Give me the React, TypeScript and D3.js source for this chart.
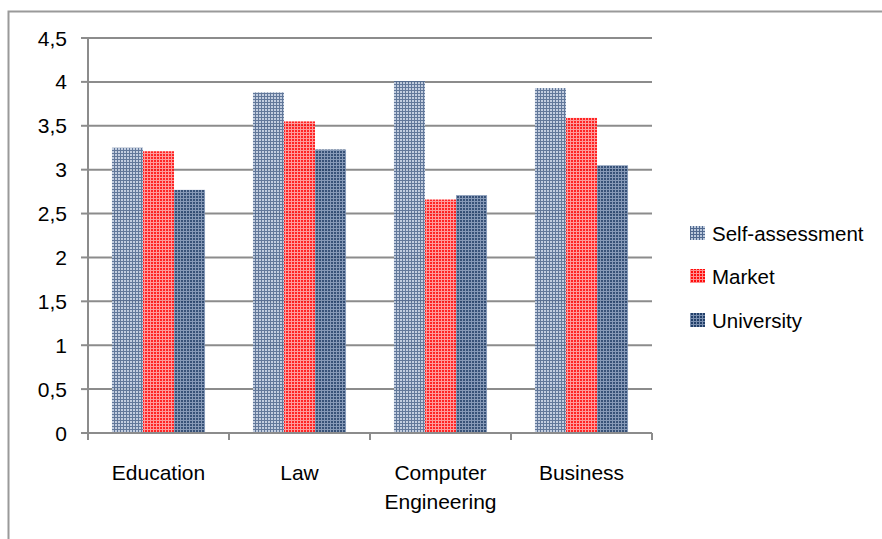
import React from "react";
import * as d3 from "d3";

const categories = ["Education", "Law", "Computer Engineering", "Business"];
const seriesNames = ["Self-assessment", "Market", "University"];
const selfAssessment = [3.25, 3.88, 4.01, 3.93];
const market = [3.21, 3.55, 2.66, 3.59];
const university = [2.77, 3.23, 2.71, 3.05];
const yTicks = [0, 0.5, 1, 1.5, 2, 2.5, 3, 3.5, 4, 4.5];

const seriesValues = [selfAssessment, market, university];
const patternStyles = [
  { bg: "#bcc9dc", line: "#51698f" },
  { bg: "#ff0d0d", line: "#ff9090" },
  { bg: "#223f69", line: "#7a8fb0" },
];

const W = 882;
const H = 539;
const left = 88;
const right = 652;
const top = 38;
const bottom = 433;
const FONT = "'Liberation Sans', Arial, sans-serif";

export default function App() {
  const x = d3
    .scaleBand<string>()
    .domain(categories)
    .range([left, right])
    .paddingInner(0.34)
    .paddingOuter(0.17);
  const xs = d3.scaleBand<string>().domain(seriesNames).range([0, x.bandwidth()]);
  const y = d3.scaleLinear().domain([0, 4.5]).range([bottom, top]);
  const fmt = (v: number) => String(v).replace(".", ",");
  const boundaries = d3.range(categories.length + 1).map((i) => left + i * ((right - left) / categories.length));

  return (
    <svg
      width={W}
      height={H}
      style={{ position: "absolute", left: 0, top: 0, background: "#fff" }}
      fontFamily={FONT}
    >
      <defs>
        {patternStyles.map((p, i) => (
          <pattern key={i} id={`pat${i}`} width={3} height={3} patternUnits="userSpaceOnUse">
            <rect width={3} height={3} fill={p.bg} />
            <rect width={1} height={3} fill={p.line} />
            <rect width={3} height={1} fill={p.line} />
          </pattern>
        ))}
      </defs>
      <rect x={8.5} y={11.5} width={W} height={H} fill="#fff" stroke="#9a9a9a" strokeWidth={2} />
      {yTicks.map((t) => (
        <g key={t}>
          {t > 0 && (
            <line x1={left} x2={right} y1={y(t)} y2={y(t)} stroke="#8c8c8c" strokeWidth={2} />
          )}
          <line x1={81} x2={left} y1={y(t)} y2={y(t)} stroke="#8c8c8c" strokeWidth={2} />
          <text x={67} y={y(t)} dy="0.36em" textAnchor="end" fontSize={21} fill="#000">
            {fmt(t)}
          </text>
        </g>
      ))}
      {categories.map((c, ci) => (
        <g key={c}>
          {seriesNames.map((s, si) => {
            const v = seriesValues[si][ci];
            return (
              <rect
                key={s}
                x={(x(c) as number) + (xs(s) as number)}
                y={y(v)}
                width={xs.bandwidth()}
                height={y(0) - y(v)}
                fill={`url(#pat${si})`}
                opacity={0.9}
              />
            );
          })}
        </g>
      ))}
      <line x1={left} x2={left} y1={top} y2={bottom} stroke="#8c8c8c" strokeWidth={2} />
      <line x1={left - 1} x2={right} y1={bottom} y2={bottom} stroke="#8c8c8c" strokeWidth={2} />
      {boundaries.map((b, i) => (
        <line key={i} x1={b} x2={b} y1={bottom} y2={bottom + 7} stroke="#8c8c8c" strokeWidth={2} />
      ))}
      {categories.map((c) => {
        const cx = (x(c) as number) + x.bandwidth() / 2;
        const words = c === "Computer Engineering" ? ["Computer", "Engineering"] : [c];
        return (
          <text key={c} x={cx} y={480} textAnchor="middle" fontSize={21} fill="#000">
            {words.map((w, i) => (
              <tspan key={w} x={cx} dy={i === 0 ? 0 : 29}>
                {w}
              </tspan>
            ))}
          </text>
        );
      })}
      {seriesNames.map((s, i) => {
        const base = [241, 284, 328][i];
        return (
          <g key={s}>
            <rect x={690} y={base - 15} width={15} height={14} fill={`url(#pat${i})`} />
            <text x={712} y={base} fontSize={20.5} fill="#000">
              {s}
            </text>
          </g>
        );
      })}
    </svg>
  );
}
